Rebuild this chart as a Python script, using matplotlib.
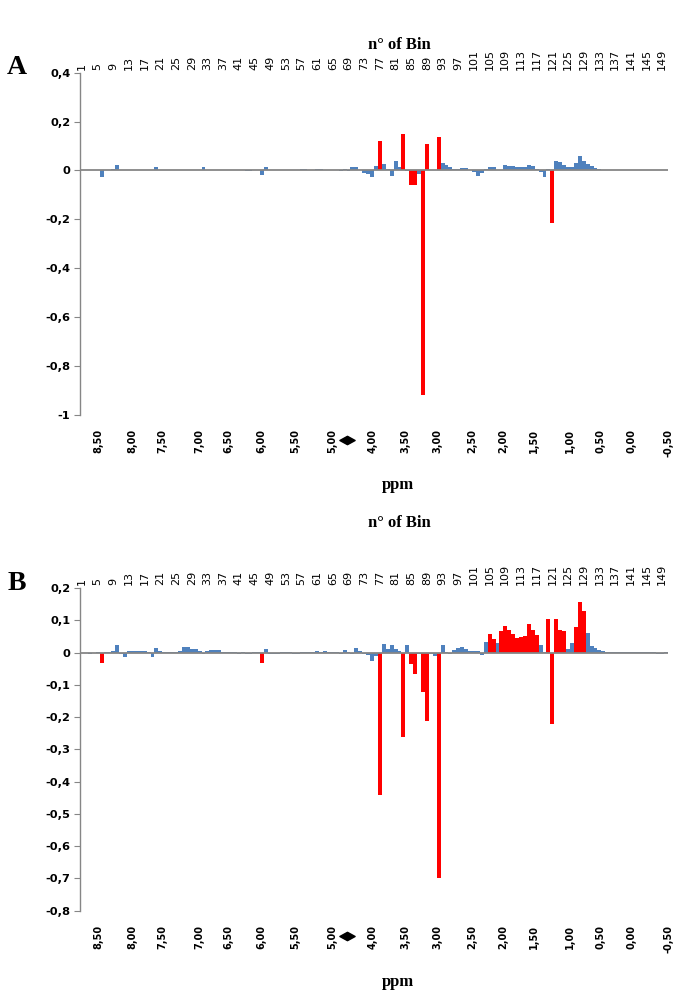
import matplotlib
matplotlib.use("Agg")
import matplotlib.pyplot as plt
from matplotlib import transforms
from matplotlib.path import Path

# bins 1..150
bins = list(range(1, 151))

# Panel A values (bins 1..150)
vals_a = [
    0.003, 0.003, 0.002, 0.003, 0.002, -0.027, 0.003, 0.002, 0.004, 0.023,
    0.003, 0.002, 0.002, 0.003, 0.002, 0.002, 0.002, 0.003, 0.002, 0.013,
    0.003, 0.002, 0.002, 0.002, 0.002, 0.002, 0.002, 0.002, 0.002, 0.003,
    0.003, 0.016, 0.003, 0.002, 0.002, 0.002, 0.002, 0.002, 0.002, 0.002,
    0.002, 0.002, -0.003, -0.003, 0.002, 0.002, -0.020, 0.013, 0.002, 0.002,
    0.002, 0.002, 0.002, 0.002, 0.002, 0.002, 0.004, 0.004, 0.002, 0.002,
    0.005, 0.005, 0.002, 0.002, 0.002, 0.002, -0.004, 0.006, -0.003, 0.012,
    0.012, 0.002, -0.010, -0.016, -0.028, 0.018, 0.120, 0.025, 0.005, -0.024,
    0.040, 0.016, 0.151, -0.004, -0.058, -0.058, -0.015, -0.920, 0.110, 0.003,
    0.003, 0.137, 0.030, 0.022, 0.016, 0.005, 0.005, 0.010, 0.008, 0.002,
    -0.006, -0.024, -0.010, 0.006, 0.012, 0.013, 0.003, 0.003, 0.023, 0.017,
    0.017, 0.013, 0.015, 0.015, 0.022, 0.018, 0.004, -0.005, -0.027, 0.004,
    -0.215, 0.037, 0.033, 0.022, 0.014, 0.016, 0.030, 0.057, 0.040, 0.027,
    0.018, 0.010, 0.005, 0.002, 0.002, 0.002, 0.002, 0.002, 0.002, 0.002,
    0.002, 0.002, 0.002, 0.002, 0.002, 0.002, 0.002, 0.002, 0.002, 0.002,
]
red_a = [77, 83, 85, 86, 88, 89, 92, 121]

# Panel B values (bins 1..150)
vals_b = [
    -0.002, -0.002, -0.003, -0.002, 0.001, -0.033, 0.002, 0.002, 0.004, 0.024,
    -0.005, -0.015, 0.005, 0.005, 0.005, 0.005, 0.004, 0.002, -0.015, 0.013,
    0.004, 0.001, 0.001, 0.001, 0.003, 0.006, 0.016, 0.016, 0.012, 0.012,
    0.006, -0.004, 0.005, 0.009, 0.009, 0.009, 0.001, 0.001, 0.001, 0.001,
    -0.003, 0.002, -0.003, -0.003, 0.001, 0.001, -0.033, 0.010, -0.003, -0.003,
    -0.003, 0.001, 0.001, 0.001, -0.004, -0.004, 0.001, 0.001, 0.001, 0.001,
    0.004, 0.001, 0.004, 0.001, 0.001, 0.001, -0.003, 0.008, 0.002, -0.003,
    0.015, 0.005, -0.005, -0.007, -0.026, -0.010, -0.440, 0.026, 0.012, 0.022,
    0.010, 0.004, -0.263, 0.023, -0.036, -0.065, -0.003, -0.123, -0.211, -0.005,
    -0.012, -0.700, 0.022, 0.002, -0.003, 0.008, 0.013, 0.016, 0.012, 0.006,
    0.006, 0.005, -0.007, 0.034, 0.057, 0.042, 0.031, 0.067, 0.081, 0.069,
    0.058, 0.044, 0.047, 0.052, 0.089, 0.071, 0.053, 0.023, 0.003, 0.104,
    -0.222, 0.104, 0.069, 0.067, 0.012, 0.031, 0.078, 0.157, 0.128, 0.060,
    0.021, 0.015, 0.008, 0.004, 0.002, 0.001, 0.001, 0.001, 0.001, 0.001,
    0.001, 0.001, 0.001, 0.001, 0.001, 0.001, 0.001, -0.003, -0.003, 0.001,
]
red_b = [6, 47, 77, 83, 85, 86, 88, 89, 92, 105, 106, 108, 109, 110, 111, 112,
         113, 114, 115, 116, 117, 120, 121, 122, 123, 124, 127, 128, 129]

# top axis: bin numbers
bin_ticks = list(range(1, 150, 4))

# bottom axis: ppm labels and where they sit (in bin units)
ppm_labels = ["8,50", "8,00", "7,50", "7,00", "6,50", "6,00", "5,50", "5,00",
              "4,00", "3,50", "3,00", "2,50", "2,00", "1,50", "1,00", "0,50",
              "0,00", "-0,50"]
ppm_pos = [5.1, 13.8, 21.4, 30.9, 38.3, 46.7, 55.3, 64.8,
           75.2, 83.4, 91.6, 100.5, 108.4, 116.3, 125.5, 133.4,
           141.1, 150.5]
gap_pos = 68.6   # diamond marking the removed water region

yticks_a = [0.4, 0.2, 0, -0.2, -0.4, -0.6, -0.8, -1]
ylabels_a = ["0,4", "0,2", "0", "-0,2", "-0,4", "-0,6", "-0,8", "-1"]
yticks_b = [0.2, 0.1, 0, -0.1, -0.2, -0.3, -0.4, -0.5, -0.6, -0.7, -0.8]
ylabels_b = ["0,2", "0,1", "0", "-0,1", "-0,2", "-0,3", "-0,4", "-0,5",
             "-0,6", "-0,7", "-0,8"]

BLUE = "#4F81BD"
RED = "#FF0000"
GREY = "#868686"

diamond = Path([(-1, 0), (0, 0.55), (1, 0), (0, -0.55), (-1, 0)],
               [Path.MOVETO, Path.LINETO, Path.LINETO, Path.LINETO, Path.CLOSEPOLY])

fig = plt.figure(figsize=(6.8, 10), dpi=100)


def panel(rect, vals, reds, yticks, ylabels, letter):
    ax = fig.add_axes(rect)
    colors = [RED if b in reds else BLUE for b in bins]
    ax.bar(bins, vals, width=1.0, color=colors, linewidth=0, zorder=2)
    ax.axhline(0, color=GREY, lw=1.3, zorder=3)
    ax.set_xlim(0.5, 150.5)
    ax.set_ylim(yticks[-1], yticks[0])

    for s in ["top", "right", "bottom"]:
        ax.spines[s].set_visible(False)
    ax.spines["left"].set_color(GREY)
    ax.spines["left"].set_linewidth(1.0)

    ax.set_yticks(yticks)
    ax.set_yticklabels(ylabels, fontsize=8.2, fontweight="bold")
    ax.tick_params(axis="y", length=4, color=GREY, pad=3)

    ax.xaxis.tick_top()
    ax.set_xticks(bin_ticks)
    ax.set_xticklabels([str(b) for b in bin_ticks], fontsize=8)
    ax.tick_params(axis="x", length=0, pad=2)
    plt.setp(ax.get_xticklabels(), rotation=90, va="bottom", ha="center")

    # ppm labels under the plot
    trans = transforms.offset_copy(ax.get_xaxis_transform(), fig=fig, y=-14, units="dots")
    for lab, p in zip(ppm_labels, ppm_pos):
        ax.text(p, 0, lab, transform=trans, rotation=90, ha="center", va="top",
                fontsize=7, fontweight="bold", clip_on=False)
    trans_d = transforms.offset_copy(ax.get_xaxis_transform(), fig=fig, y=-25, units="dots")
    ax.plot([gap_pos], [0], marker=diamond, markersize=11, color="black",
            transform=trans_d, clip_on=False)

    pos = ax.get_position()
    fig.text(0.025, pos.y1 + 0.005, letter, fontsize=20, fontweight="bold",
             family="Liberation Serif", ha="center", va="center")
    return ax


# rectangles in figure fraction (680 x 1000 px)
ax_a = panel([80 / 680, 1 - 414.7 / 1000, 588 / 680, 342 / 1000],
             vals_a, red_a, yticks_a, ylabels_a, "A")
ax_b = panel([80 / 680, 1 - 910.7 / 1000, 588 / 680, 322.7 / 1000],
             vals_b, red_b, yticks_b, ylabels_b, "B")

for ytit, yppm in [(0.955, 0.515), (0.477, 0.018)]:
    fig.text(0.588, ytit, "n° of Bin", fontsize=12, fontweight="bold",
             family="Liberation Serif", ha="center", va="center")
    fig.text(0.585, yppm, "ppm", fontsize=12, fontweight="bold",
             family="Liberation Serif", ha="center", va="center")

fig.savefig("out.png", dpi=100)
